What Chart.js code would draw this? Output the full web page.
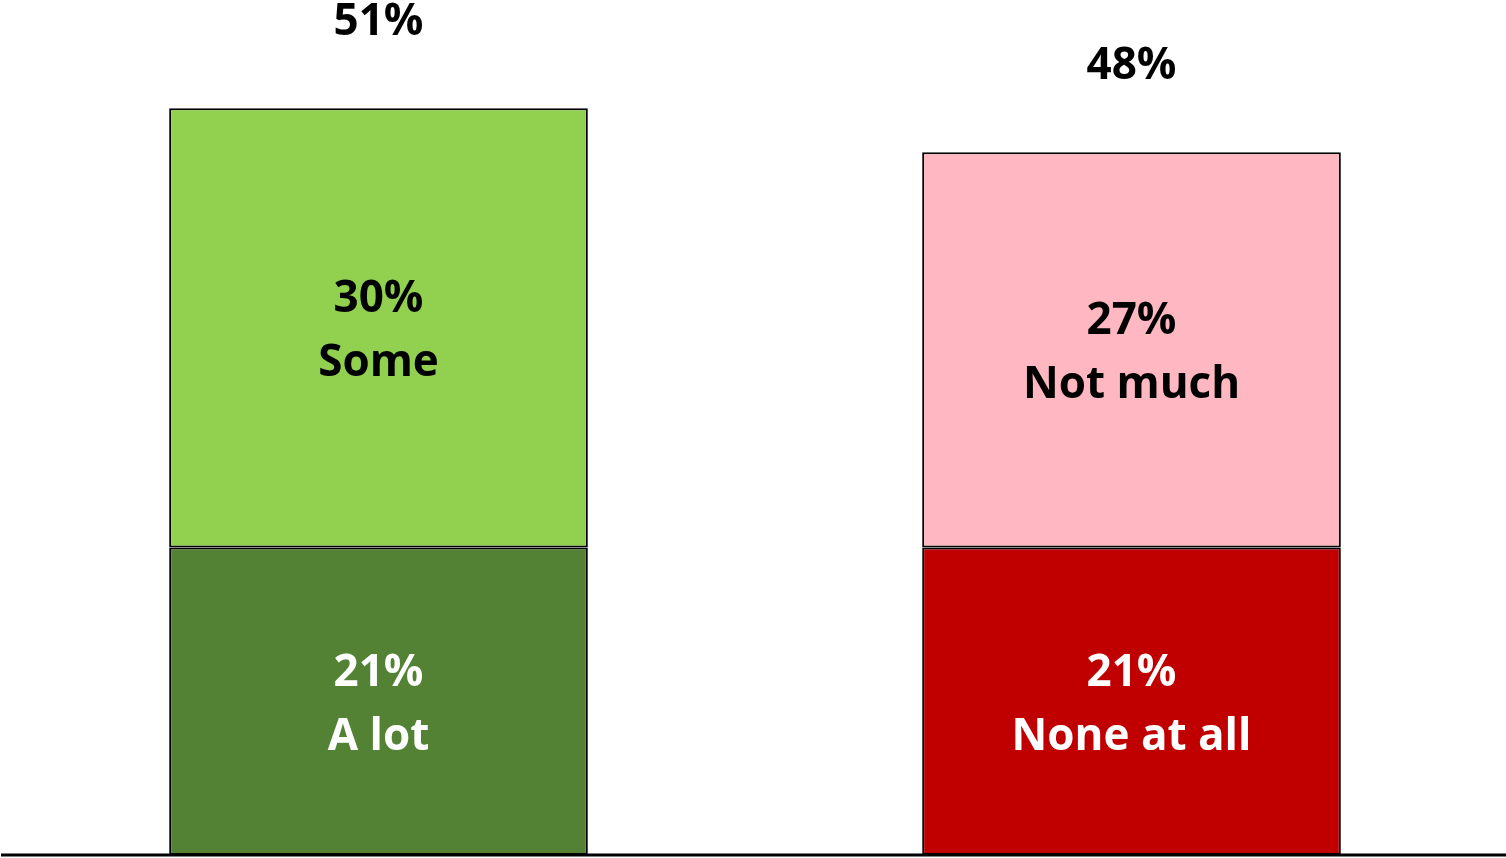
<!DOCTYPE html>
<html>
<head>
<meta charset="utf-8">
<script src="https://cdn.jsdelivr.net/npm/chart.js@4.4.1/dist/chart.umd.min.js"></script>
<style>
html,body{margin:0;padding:0;background:#fff;overflow:hidden;}
canvas{display:block;}
</style>
</head>
<body>
<canvas id="c" width="1508" height="858"></canvas>
<script>
const categories = ['Positive', 'Negative'];
const lowerValues = [21, 21];
const upperValues = [30, 27];
const totals = [51, 48];
const lowerNames = ['A lot', 'None at all'];
const upperNames = ['Some', 'Not much'];
const lowerColors = ['#548235', '#C00000'];
const upperColors = ['#92D050', '#FFB7C1'];

const FONT = 'bold 44px "Open Sans", Lato, sans-serif';

const labelPlugin = {
  id: 'labels',
  afterDatasetsDraw(chart) {
    const ctx = chart.ctx;
    const yS = chart.scales.y;
    ctx.save();
    const by = yS.getPixelForValue(0);
    ctx.strokeStyle = '#000';
    ctx.lineWidth = 3;
    ctx.beginPath();
    ctx.moveTo(1, by);
    ctx.lineTo(chart.width, by);
    ctx.stroke();

    ctx.font = FONT;
    ctx.textAlign = 'center';
    ctx.textBaseline = 'middle';
    const names = [lowerNames, upperNames];
    const vals = [lowerValues, upperValues];
    const txtCol = ['#fff', '#000'];
    chart.data.datasets.forEach((ds, di) => {
      const meta = chart.getDatasetMeta(di);
      meta.data.forEach((el, i) => {
        const cy = (el.y + el.base) / 2 + 4;
        ctx.fillStyle = txtCol[di];
        ctx.fillText(vals[di][i] + '%', el.x, cy - 32);
        ctx.fillText(names[di][i], el.x, cy + 32);
      });
    });
    const top = chart.getDatasetMeta(1);
    top.data.forEach((el, i) => {
      ctx.fillStyle = '#000';
      ctx.fillText(totals[i] + '%', el.x, el.y - 86);
    });
    ctx.restore();
  }
};

new Chart(document.getElementById('c'), {
  type: 'bar',
  data: {
    labels: categories,
    datasets: [
      { data: lowerValues, backgroundColor: lowerColors, borderColor: '#000', borderWidth: 2, borderSkipped: false },
      { data: upperValues, backgroundColor: upperColors, borderColor: '#000', borderWidth: 2, borderSkipped: false }
    ]
  },
  options: {
    responsive: false,
    animation: false,
    layout: { padding: { left: 2, right: 0, top: 0, bottom: 3 } },
    plugins: { legend: { display: false }, tooltip: { enabled: false } },
    datasets: { bar: { categoryPercentage: 1, barPercentage: 0.556 } },
    scales: {
      x: { stacked: true, display: false },
      y: { stacked: true, display: false, min: 0, max: 58.4 }
    }
  },
  plugins: [labelPlugin]
});
</script>
</body>
</html>
